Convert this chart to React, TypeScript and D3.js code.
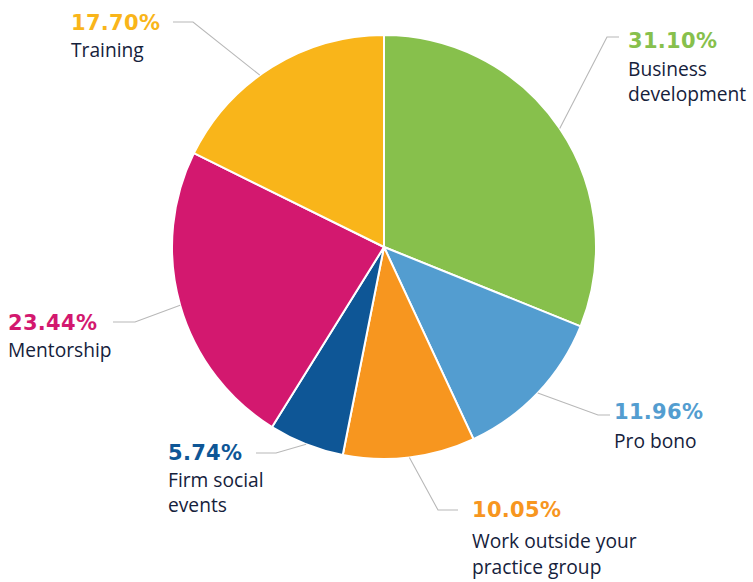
import React from "react";
import * as d3 from "d3";

const categories = ["Business development", "Pro bono", "Work outside your practice group", "Firm social events", "Mentorship", "Training"];
const values = [31.10, 11.96, 10.05, 5.74, 23.44, 17.70];
const valueLabels = ["31.10%", "11.96%", "10.05%", "5.74%", "23.44%", "17.70%"];
const labelLines = [["Business", "development"], ["Pro bono"], ["Work outside your", "practice group"], ["Firm social", "events"], ["Mentorship"], ["Training"]];
const colors = ["#87c04c", "#539dd0", "#f7961f", "#0e5696", "#d3186f", "#f9b51a"];

const W = 753, H = 582;
const cx = 384, cy = 247, R = 212;

// label layout: text x, percentage baseline y, gap to first label line, line step, elbow point, horizontal end, anchor angle offset (deg)
const layout = [
  { tx: 628, ty: 48, gap: 28, step: 25, elbow: [607, 37], end: [619, 37], off: 0 },
  { tx: 614, ty: 419, gap: 29, step: 25, elbow: [598, 415], end: [610, 415], off: 0 },
  { tx: 472, ty: 517, gap: 31, step: 25.5, elbow: [438, 510], end: [458, 510], off: 0 },
  { tx: 168, ty: 460, gap: 27, step: 25, elbow: [276, 453], end: [256, 453], off: 0 },
  { tx: 8, ty: 330, gap: 27, step: 25, elbow: [135, 322], end: [113, 322], off: 0 },
  { tx: 71, ty: 30, gap: 27, step: 25, elbow: [193, 22], end: [173, 22], off: -4 },
];

export default function App() {
  const pie = d3.pie<number>().sort(null).value((d) => d);
  const arcs = pie(values);
  const arc = d3.arc<d3.PieArcDatum<number>>().innerRadius(0).outerRadius(R);
  return (
    <svg width={W} height={H} style={{ position: "absolute", left: 0, top: 0, background: "#fff" }}>
      <g transform={`translate(${cx},${cy})`}>
        {arcs.map((a, i) => (
          <path key={i} d={arc(a) || ""} fill={colors[i]} stroke="#fff" strokeWidth={2} strokeLinejoin="round" />
        ))}
      </g>
      {arcs.map((a, i) => {
        const L = layout[i];
        const ang = (a.startAngle + a.endAngle) / 2 + (L.off * Math.PI) / 180;
        const px = cx + R * Math.sin(ang);
        const py = cy - R * Math.cos(ang);
        return (
          <polyline key={"l" + i} points={`${px},${py} ${L.elbow[0]},${L.elbow[1]} ${L.end[0]},${L.end[1]}`} fill="none" stroke="#b8b8b8" strokeWidth={1.1} />
        );
      })}
      {arcs.map((a, i) => {
        const L = layout[i];
        return (
          <g key={"t" + i}>
            <text x={L.tx} y={L.ty} fill={colors[i]} fontFamily="'DejaVu Sans', sans-serif" fontWeight={700} fontSize={21} letterSpacing={0.3}>
              {valueLabels[i]}
            </text>
            {labelLines[i].map((s, j) => (
              <text key={j} x={L.tx} y={L.ty + L.gap + j * L.step} fill="#15213b" fontFamily="'Open Sans', sans-serif" fontSize={19.2}>
                {s}
              </text>
            ))}
          </g>
        );
      })}
    </svg>
  );
}
